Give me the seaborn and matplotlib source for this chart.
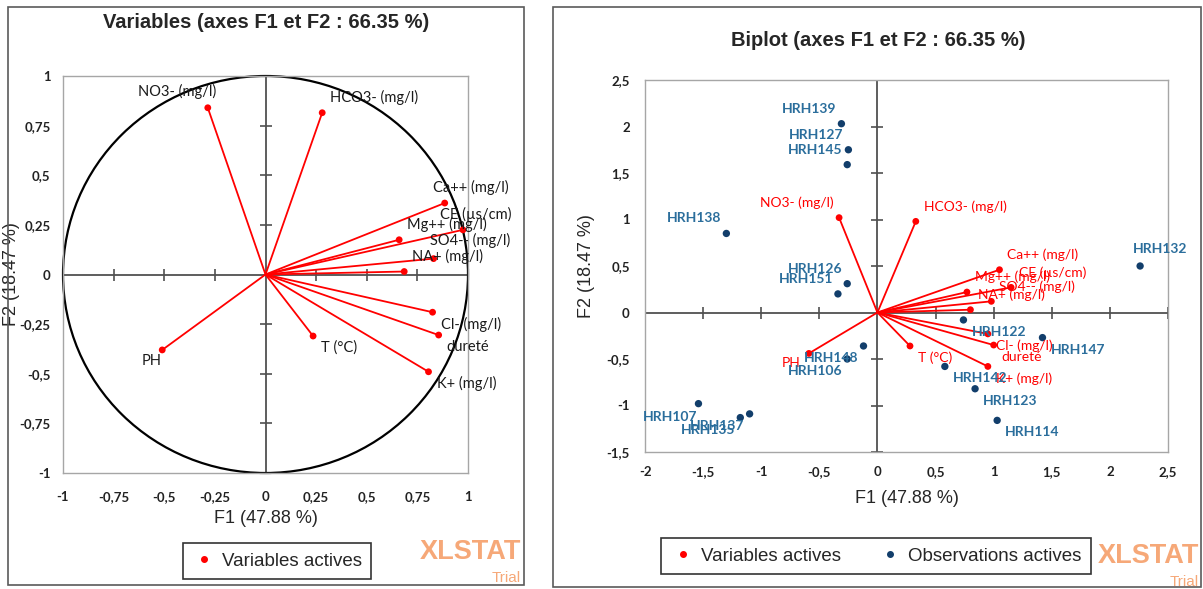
import numpy as np
import pandas as pd
import matplotlib
matplotlib.use("Agg")
import matplotlib.pyplot as plt
import seaborn as sns
from matplotlib.lines import Line2D
from matplotlib.patches import Rectangle, Circle
from matplotlib.ticker import FixedLocator, FixedFormatter

# ---------------- data ----------------
var_names = ["NO3- (mg/l)", "HCO3- (mg/l)", "Ca++ (mg/l)", "CE (µs/cm)", "Mg++ (mg/l)",
             "SO4-- (mg/l)", "NA+ (mg/l)", "Cl- (mg/l)", "dureté", "K+ (mg/l)", "T (°C)", "PH"]
# correlation circle (F1, F2)
var_f1 = [-0.285, 0.28, 0.885, 0.975, 0.66, 0.83, 0.685, 0.825, 0.855, 0.805, 0.235, -0.51]
var_f2 = [0.84, 0.815, 0.36, 0.225, 0.175, 0.08, 0.015, -0.19, -0.305, -0.49, -0.31, -0.38]
# biplot variables
bi_var_f1 = [-0.33, 0.33, 1.05, 1.15, 0.77, 0.98, 0.80, 0.95, 1.00, 0.95, 0.28, -0.59]
bi_var_f2 = [1.02, 0.98, 0.46, 0.27, 0.22, 0.12, 0.03, -0.23, -0.35, -0.58, -0.36, -0.44]
# biplot observations
obs_names = ["HRH139", "HRH127", "HRH145", "HRH138", "HRH126", "HRH151", "HRH107", "HRH137",
             "HRH135", "HRH148", "HRH106", "HRH122", "HRH147", "HRH142", "HRH123", "HRH114", "HRH132"]
obs_f1 = [-0.31, -0.25, -0.26, -1.30, -0.26, -0.34, -1.54, -1.10, -1.18, -0.12, -0.26,
          0.74, 1.42, 0.58, 0.84, 1.03, 2.26]
obs_f2 = [2.03, 1.75, 1.59, 0.85, 0.31, 0.20, -0.98, -1.09, -1.13, -0.36, -0.50,
          -0.08, -0.27, -0.58, -0.82, -1.16, 0.50]

circle_ticks = [-1, -0.75, -0.5, -0.25, 0, 0.25, 0.5, 0.75, 1]
biplot_xticks = [-2, -1.5, -1, -0.5, 0, 0.5, 1, 1.5, 2, 2.5]
biplot_yticks = [-1.5, -1, -0.5, 0, 0.5, 1, 1.5, 2, 2.5]

title_left = "Variables (axes F1 et F2 : 66.35 %)"
title_right = "Biplot (axes F1 et F2 : 66.35 %)"
xlab = "F1 (47.88 %)"
ylab = "F2 (18.47 %)"

# ---------------- style ----------------
sns.set_theme(style="white")
plt.rcParams["font.family"] = ["Liberation Sans", "DejaVu Sans"]

RED = "#FF0000"
OBS_PT = "#123E6B"
OBS_TXT = "#2B6E9C"
BOX = "#A6A6A6"
ZERO = "#505050"
ORANGE = "#F6A878"

W, H = 1203, 589
fig = plt.figure(figsize=(W / 100, H / 100), dpi=100)


def fr(x0, y0, x1, y1):
    """pixel box (top-left origin) -> figure fraction rect"""
    return [x0 / W, 1 - y1 / H, (x1 - x0) / W, (y1 - y0) / H]


# panel frames
for (x0, y0, x1, y1) in [(8, 7, 524, 585), (553, 7, 1201, 587)]:
    fig.patches.append(Rectangle((x0 / W, 1 - y1 / H), (x1 - x0) / W, (y1 - y0) / H,
                                 transform=fig.transFigure, fill=False,
                                 edgecolor="#5A5A5A", lw=1.2, zorder=0))


def fmt(v):
    return ("%g" % v).replace(".", ",")


def style_axes(ax, xt, yt, xpad, ypad):
    for sp in ax.spines.values():
        sp.set_color(BOX)
        sp.set_linewidth(1.0)
    ax.xaxis.set_major_locator(FixedLocator(xt))
    ax.xaxis.set_major_formatter(FixedFormatter([fmt(v) for v in xt]))
    ax.yaxis.set_major_locator(FixedLocator(yt))
    ax.yaxis.set_major_formatter(FixedFormatter([fmt(v) for v in yt]))
    ax.tick_params(axis="both", length=0, labelsize=9.5, colors="#222222")
    ax.tick_params(axis="x", pad=xpad)
    ax.tick_params(axis="y", pad=ypad)
    for lab in ax.get_xticklabels() + ax.get_yticklabels():
        lab.set_fontfamily(["Lato", "DejaVu Sans"])
        lab.set_fontweight("bold")
    ax.axhline(0, color=ZERO, lw=1.3, zorder=1)
    ax.axvline(0, color=ZERO, lw=1.3, zorder=1)
    xt_nz = [v for v in xt if v != 0]
    yt_nz = [v for v in yt if v != 0]
    ax.plot(xt_nz, [0] * len(xt_nz), ls="none", marker="|", ms=9, mew=1.2, color=ZERO, zorder=1)
    ax.plot([0] * len(yt_nz), yt_nz, ls="none", marker="_", ms=9, mew=1.2, color=ZERO, zorder=1)


def rule_offset(x, y):
    dx = 8 if x >= 0 else -5
    ha = "left" if x >= 0 else "right"
    dy = 15 if y >= 0 else -12
    return dx, dy, ha


def annotate(ax, names, xs, ys, color, size, overrides, weight="normal"):
    for n, x, y in zip(names, xs, ys):
        dx, dy, ha = overrides.get(n, rule_offset(x, y))
        ax.annotate(n, (x, y), xytext=(dx, dy), textcoords="offset pixels",
                    ha=ha, va="center", color=color, fontsize=size, fontweight=weight,
                    family=["Lato", "DejaVu Sans"], zorder=5, annotation_clip=False)


# ---------------- left: correlation circle ----------------
axL = fig.add_axes(fr(63, 76, 468, 473))
axL.set_xlim(-1, 1)
axL.set_ylim(-1, 1)
style_axes(axL, circle_ticks, circle_ticks, xpad=13, ypad=9)
axL.add_patch(Circle((0, 0), 1, fill=False, color="black", lw=1.6, zorder=2, clip_on=False))
for x, y in zip(var_f1, var_f2):
    axL.plot([0, x], [0, y], color=RED, lw=1.3, zorder=3)
sns.scatterplot(x=var_f1, y=var_f2, color=RED, s=24, edgecolor="none", ax=axL, zorder=4, legend=False)
left_over = {"NO3- (mg/l)": (8, 16, "right"), "Ca++ (mg/l)": (-12, 16, "left"),
             "CE (µs/cm)": (-23, 15, "left"), "SO4-- (mg/l)": (-4, 18, "left"),
             "PH": (-1, -11, "right")}
annotate(axL, var_names, var_f1, var_f2, "#1A1A1A", 10.5, left_over)
axL.set_xlabel(xlab, fontsize=13, labelpad=5)
axL.set_ylabel(ylab, fontsize=13)
axL.yaxis.set_label_coords(-0.106, 0.5)
fig.text(266 / W, 1 - 22 / H, title_left, ha="center", va="center", fontsize=14.5, fontweight="bold")

# ---------------- right: biplot ----------------
axR = fig.add_axes(fr(645, 80, 1168, 452))
axR.set_xlim(-2, 2.5)
axR.set_ylim(-1.5, 2.5)
style_axes(axR, biplot_xticks, biplot_yticks, xpad=10, ypad=11)
for x, y in zip(bi_var_f1, bi_var_f2):
    axR.plot([0, x], [0, y], color=RED, lw=1.3, zorder=3)
sns.scatterplot(x=bi_var_f1, y=bi_var_f2, color=RED, s=24, edgecolor="none", ax=axR, zorder=4, legend=False)
sns.scatterplot(x=obs_f1, y=obs_f2, color=OBS_PT, s=28, edgecolor="none", ax=axR, zorder=4, legend=False)
annotate(axR, var_names, bi_var_f1, bi_var_f2, RED, 10, {"PH": (-8, -10, "right")})
annotate(axR, obs_names, obs_f1, obs_f2, OBS_TXT, 10,
         {"HRH107": (-1, -13, "right"), "HRH132": (-7, 17, "left")}, weight="bold")
axR.set_xlabel(xlab, fontsize=13, labelpad=9)
axR.set_ylabel(ylab, fontsize=13, labelpad=8)
fig.text(878 / W, 1 - 40 / H, title_right, ha="center", va="center", fontsize=14.5, fontweight="bold")

# ---------------- legends ----------------
h_var = Line2D([], [], ls="none", marker="o", ms=4, color=RED, label="Variables actives")
h_obs = Line2D([], [], ls="none", marker="o", ms=4, color=OBS_PT, label="Observations actives")
for handles, cx, cy, ncol in [([h_var], 277, 561, 1), ([h_var, h_obs], 876, 556, 2)]:
    lg = fig.legend(handles=handles, loc="center", bbox_to_anchor=(cx / W, 1 - cy / H),
                    ncol=ncol, frameon=True, fancybox=False, fontsize=13.5,
                    handletextpad=0.3, columnspacing=2.0, borderpad=0.5, handlelength=1.3)
    lg.get_frame().set_edgecolor("black")
    lg.get_frame().set_linewidth(1.2)

# ---------------- watermark ----------------
for (xr, y1, y2) in [(521, 552, 578), (1199, 556, 582)]:
    fig.text(xr / W, 1 - y1 / H, "XLSTAT", ha="right", va="center", fontsize=19.5,
             fontweight="bold", color=ORANGE, family=["Liberation Sans Narrow", "Liberation Sans"])
    fig.text(xr / W, 1 - y2 / H, "Trial", ha="right", va="center", fontsize=11,
             color=ORANGE, family=["Liberation Sans Narrow", "Liberation Sans"])

fig.savefig("out.png", dpi=100)
